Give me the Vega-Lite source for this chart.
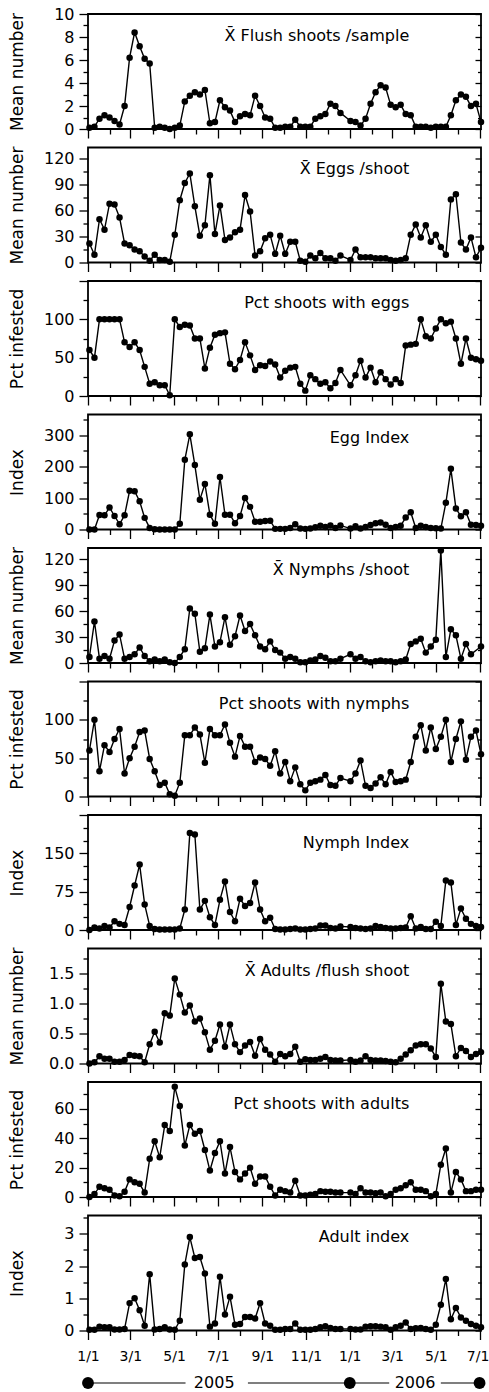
{
"$schema": "https://vega.github.io/schema/vega-lite/v6.json",
"padding": {"left": 7, "top": 5, "right": 4, "bottom": 4},
"background": "white",
"spacing": 18.5,
"bounds": "flush",
"config": {
  "font": "DejaVu Sans",
  "view": {"stroke": "black", "strokeWidth": 1.8},
  "axis": {"grid": false, "domain": false, "tickColor": "black", "tickWidth": 1.3, "labelColor": "black", "labelFontSize": 16, "titleColor": "black", "titleFontSize": 17, "titleFontWeight": "normal", "labelOverlap": false}
},
"datasets": {"d": [
{"date":"2005-01-03","flush":0.1,"eggs":22,"pegg":60,"eidx":0,"nymph":7,"pnym":60,"nidx":0,"adult":0,"padult":0,"aidx":0.02},
{"date":"2005-01-10","flush":0.2,"eggs":9,"pegg":50,"eidx":0,"nymph":48,"pnym":100,"nidx":5,"adult":0.02,"padult":2,"aidx":0.02},
{"date":"2005-01-17","flush":0.9,"eggs":50,"pegg":100,"eidx":46,"nymph":5,"pnym":33,"nidx":3,"adult":0.12,"padult":7,"aidx":0.12},
{"date":"2005-01-24","flush":1.2,"eggs":38,"pegg":100,"eidx":45,"nymph":8,"pnym":67,"nidx":8,"adult":0.08,"padult":6,"aidx":0.1},
{"date":"2005-01-31","flush":1.0,"eggs":68,"pegg":100,"eidx":70,"nymph":5,"pnym":58,"nidx":5,"adult":0.08,"padult":5,"aidx":0.1},
{"date":"2005-02-07","flush":0.7,"eggs":67,"pegg":100,"eidx":43,"nymph":26,"pnym":75,"nidx":17,"adult":0.03,"padult":1,"aidx":0.03},
{"date":"2005-02-14","flush":0.4,"eggs":52,"pegg":100,"eidx":17,"nymph":33,"pnym":88,"nidx":12,"adult":0.03,"padult":0.5,"aidx":0.03},
{"date":"2005-02-21","flush":2.0,"eggs":22,"pegg":70,"eidx":45,"nymph":5,"pnym":30,"nidx":10,"adult":0.06,"padult":3.5,"aidx":0.05},
{"date":"2005-02-28","flush":6.2,"eggs":20,"pegg":64,"eidx":123,"nymph":7,"pnym":50,"nidx":45,"adult":0.14,"padult":12,"aidx":0.85},
{"date":"2005-03-07","flush":8.4,"eggs":15,"pegg":70,"eidx":122,"nymph":10,"pnym":65,"nidx":87,"adult":0.13,"padult":10,"aidx":1.0},
{"date":"2005-03-14","flush":7.2,"eggs":13,"pegg":60,"eidx":90,"nymph":18,"pnym":84,"nidx":128,"adult":0.12,"padult":9,"aidx":0.63},
{"date":"2005-03-21","flush":6.1,"eggs":7,"pegg":38,"eidx":37,"nymph":8,"pnym":86,"nidx":50,"adult":0.02,"padult":3,"aidx":0.15},
{"date":"2005-03-28","flush":5.7,"eggs":2,"pegg":16,"eidx":5,"nymph":2,"pnym":49,"nidx":8,"adult":0.32,"padult":26,"aidx":1.75},
{"date":"2005-04-04","flush":0.1,"eggs":9,"pegg":18,"eidx":1,"nymph":4,"pnym":33,"nidx":2,"adult":0.53,"padult":38,"aidx":0.03},
{"date":"2005-04-11","flush":0.2,"eggs":3,"pegg":14,"eidx":0,"nymph":2,"pnym":15,"nidx":1,"adult":0.35,"padult":27,"aidx":0.05},
{"date":"2005-04-18","flush":0.1,"eggs":3,"pegg":14,"eidx":0,"nymph":4,"pnym":18,"nidx":1,"adult":0.84,"padult":49,"aidx":0.1},
{"date":"2005-04-25","flush":0.0,"eggs":1,"pegg":1,"eidx":0,"nymph":1,"pnym":3,"nidx":1,"adult":0.8,"padult":45,"aidx":0.03},
{"date":"2005-05-02","flush":0.1,"eggs":32,"pegg":100,"eidx":0,"nymph":0,"pnym":1,"nidx":1,"adult":1.42,"padult":75,"aidx":0.02},
{"date":"2005-05-09","flush":0.3,"eggs":72,"pegg":90,"eidx":18,"nymph":7,"pnym":18,"nidx":3,"adult":1.15,"padult":62,"aidx":0.3},
{"date":"2005-05-16","flush":2.4,"eggs":92,"pegg":93,"eidx":222,"nymph":16,"pnym":80,"nidx":40,"adult":0.85,"padult":35,"aidx":2.05},
{"date":"2005-05-23","flush":2.9,"eggs":103,"pegg":92,"eidx":303,"nymph":63,"pnym":80,"nidx":190,"adult":0.97,"padult":49,"aidx":2.9},
{"date":"2005-05-30","flush":3.2,"eggs":65,"pegg":75,"eidx":205,"nymph":57,"pnym":90,"nidx":187,"adult":0.7,"padult":43,"aidx":2.25},
{"date":"2005-06-06","flush":3.0,"eggs":31,"pegg":75,"eidx":95,"nymph":13,"pnym":81,"nidx":40,"adult":0.75,"padult":45,"aidx":2.28},
{"date":"2005-06-13","flush":3.4,"eggs":43,"pegg":36,"eidx":145,"nymph":17,"pnym":44,"nidx":57,"adult":0.52,"padult":32,"aidx":1.77},
{"date":"2005-06-20","flush":0.5,"eggs":101,"pegg":63,"eidx":47,"nymph":56,"pnym":88,"nidx":25,"adult":0.23,"padult":18,"aidx":0.12},
{"date":"2005-06-27","flush":0.6,"eggs":33,"pegg":80,"eidx":18,"nymph":19,"pnym":80,"nidx":10,"adult":0.38,"padult":30,"aidx":0.22},
{"date":"2005-07-04","flush":2.5,"eggs":66,"pegg":82,"eidx":167,"nymph":24,"pnym":80,"nidx":59,"adult":0.65,"padult":38,"aidx":1.67},
{"date":"2005-07-11","flush":1.9,"eggs":26,"pegg":83,"eidx":47,"nymph":53,"pnym":94,"nidx":95,"adult":0.28,"padult":16,"aidx":0.5},
{"date":"2005-07-18","flush":1.6,"eggs":29,"pegg":42,"eidx":47,"nymph":21,"pnym":70,"nidx":35,"adult":0.65,"padult":34,"aidx":1.05},
{"date":"2005-07-25","flush":0.6,"eggs":35,"pegg":35,"eidx":20,"nymph":31,"pnym":52,"nidx":17,"adult":0.32,"padult":17,"aidx":0.18},
{"date":"2005-08-01","flush":1.1,"eggs":38,"pegg":47,"eidx":43,"nymph":55,"pnym":79,"nidx":61,"adult":0.19,"padult":12,"aidx":0.2},
{"date":"2005-08-08","flush":1.3,"eggs":78,"pegg":70,"eidx":100,"nymph":37,"pnym":65,"nidx":47,"adult":0.3,"padult":16,"aidx":0.42},
{"date":"2005-08-15","flush":1.2,"eggs":59,"pegg":53,"eidx":72,"nymph":45,"pnym":65,"nidx":53,"adult":0.36,"padult":20,"aidx":0.42},
{"date":"2005-08-22","flush":2.9,"eggs":8,"pegg":34,"eidx":25,"nymph":32,"pnym":45,"nidx":93,"adult":0.13,"padult":9,"aidx":0.37},
{"date":"2005-08-29","flush":2.0,"eggs":13,"pegg":40,"eidx":25,"nymph":19,"pnym":51,"nidx":40,"adult":0.41,"padult":14,"aidx":0.85},
{"date":"2005-09-05","flush":1.0,"eggs":28,"pegg":39,"eidx":27,"nymph":16,"pnym":49,"nidx":17,"adult":0.23,"padult":14,"aidx":0.22},
{"date":"2005-09-12","flush":0.9,"eggs":32,"pegg":45,"eidx":28,"nymph":25,"pnym":40,"nidx":24,"adult":0.15,"padult":7,"aidx":0.15},
{"date":"2005-09-19","flush":0.1,"eggs":10,"pegg":41,"eidx":2,"nymph":15,"pnym":59,"nidx":2,"adult":0.03,"padult":1,"aidx":0.02},
{"date":"2005-09-26","flush":0.1,"eggs":31,"pegg":24,"eidx":2,"nymph":12,"pnym":30,"nidx":1,"adult":0.16,"padult":5,"aidx":0.02},
{"date":"2005-10-03","flush":0.2,"eggs":10,"pegg":33,"eidx":2,"nymph":5,"pnym":45,"nidx":1,"adult":0.12,"padult":4,"aidx":0.05},
{"date":"2005-10-10","flush":0.2,"eggs":24,"pegg":37,"eidx":5,"nymph":7,"pnym":20,"nidx":2,"adult":0.16,"padult":3,"aidx":0.05},
{"date":"2005-10-17","flush":0.8,"eggs":24,"pegg":38,"eidx":17,"nymph":5,"pnym":38,"nidx":3,"adult":0.28,"padult":11,"aidx":0.22},
{"date":"2005-10-24","flush":0.2,"eggs":2,"pegg":16,"eidx":3,"nymph":1,"pnym":16,"nidx":1,"adult":0.03,"padult":1,"aidx":0.02},
{"date":"2005-10-31","flush":0.2,"eggs":1,"pegg":7,"eidx":2,"nymph":1,"pnym":8,"nidx":1,"adult":0.07,"padult":1,"aidx":0.02},
{"date":"2005-11-07","flush":0.2,"eggs":8,"pegg":27,"eidx":3,"nymph":3,"pnym":18,"nidx":2,"adult":0.06,"padult":1.5,"aidx":0.02},
{"date":"2005-11-14","flush":0.9,"eggs":5,"pegg":22,"eidx":7,"nymph":4,"pnym":20,"nidx":3,"adult":0.06,"padult":2,"aidx":0.05},
{"date":"2005-11-21","flush":1.1,"eggs":11,"pegg":16,"eidx":12,"nymph":8,"pnym":22,"nidx":9,"adult":0.08,"padult":4,"aidx":0.1},
{"date":"2005-11-28","flush":1.3,"eggs":5,"pegg":18,"eidx":8,"nymph":6,"pnym":28,"nidx":9,"adult":0.11,"padult":3.5,"aidx":0.13},
{"date":"2005-12-05","flush":2.2,"eggs":5,"pegg":10,"eidx":13,"nymph":2,"pnym":15,"nidx":4,"adult":0.06,"padult":3.5,"aidx":0.08},
{"date":"2005-12-12","flush":2.0,"eggs":2,"pegg":17,"eidx":5,"nymph":2,"pnym":14,"nidx":3,"adult":0.05,"padult":3,"aidx":0.05},
{"date":"2005-12-19","flush":1.4,"eggs":8,"pegg":34,"eidx":13,"nymph":5,"pnym":24,"nidx":7,"adult":0.05,"padult":3,"aidx":0.05},
{"date":"2006-01-02","flush":0.7,"eggs":3,"pegg":14,"eidx":3,"nymph":10,"pnym":20,"nidx":6,"adult":0.06,"padult":3,"aidx":0.05},
{"date":"2006-01-09","flush":0.6,"eggs":15,"pegg":27,"eidx":10,"nymph":5,"pnym":30,"nidx":4,"adult":0.03,"padult":2,"aidx":0.03},
{"date":"2006-01-16","flush":0.3,"eggs":6,"pegg":46,"eidx":3,"nymph":7,"pnym":47,"nidx":3,"adult":0.05,"padult":6,"aidx":0.03},
{"date":"2006-01-23","flush":0.9,"eggs":6,"pegg":24,"eidx":8,"nymph":2,"pnym":14,"nidx":2,"adult":0.12,"padult":3,"aidx":0.12},
{"date":"2006-01-30","flush":2.2,"eggs":6,"pegg":37,"eidx":14,"nymph":1,"pnym":11,"nidx":3,"adult":0.06,"padult":3,"aidx":0.13},
{"date":"2006-02-06","flush":3.2,"eggs":5,"pegg":18,"eidx":20,"nymph":2,"pnym":17,"nidx":8,"adult":0.05,"padult":2.5,"aidx":0.13},
{"date":"2006-02-13","flush":3.8,"eggs":5,"pegg":31,"eidx":22,"nymph":3,"pnym":25,"nidx":6,"adult":0.05,"padult":3,"aidx":0.12},
{"date":"2006-02-20","flush":3.6,"eggs":5,"pegg":22,"eidx":15,"nymph":2,"pnym":16,"nidx":4,"adult":0.04,"padult":0.5,"aidx":0.1},
{"date":"2006-02-27","flush":2.1,"eggs":3,"pegg":15,"eidx":5,"nymph":2,"pnym":32,"nidx":3,"adult":0.03,"padult":2,"aidx":0.02},
{"date":"2006-03-06","flush":1.9,"eggs":2,"pegg":22,"eidx":8,"nymph":1,"pnym":19,"nidx":3,"adult":0.02,"padult":5,"aidx":0.1},
{"date":"2006-03-13","flush":2.1,"eggs":3,"pegg":17,"eidx":12,"nymph":2,"pnym":20,"nidx":4,"adult":0.08,"padult":6,"aidx":0.15},
{"date":"2006-03-20","flush":1.3,"eggs":5,"pegg":66,"eidx":38,"nymph":4,"pnym":22,"nidx":5,"adult":0.15,"padult":8,"aidx":0.25},
{"date":"2006-03-27","flush":1.2,"eggs":32,"pegg":67,"eidx":55,"nymph":22,"pnym":45,"nidx":27,"adult":0.22,"padult":10,"aidx":0.05},
{"date":"2006-04-03","flush":0.2,"eggs":44,"pegg":68,"eidx":5,"nymph":25,"pnym":78,"nidx":3,"adult":0.3,"padult":5,"aidx":0.07},
{"date":"2006-04-10","flush":0.2,"eggs":29,"pegg":100,"eidx":12,"nymph":28,"pnym":93,"nidx":6,"adult":0.32,"padult":5,"aidx":0.08},
{"date":"2006-04-17","flush":0.2,"eggs":43,"pegg":78,"eidx":8,"nymph":12,"pnym":60,"nidx":2,"adult":0.32,"padult":4,"aidx":0.05},
{"date":"2006-04-24","flush":0.1,"eggs":24,"pegg":75,"eidx":5,"nymph":19,"pnym":90,"nidx":2,"adult":0.25,"padult":0.5,"aidx":0.02},
{"date":"2006-05-01","flush":0.2,"eggs":32,"pegg":88,"eidx":4,"nymph":27,"pnym":62,"nidx":16,"adult":0.11,"padult":2,"aidx":0.18},
{"date":"2006-05-08","flush":0.2,"eggs":18,"pegg":100,"eidx":3,"nymph":130,"pnym":78,"nidx":8,"adult":1.33,"padult":22,"aidx":0.8},
{"date":"2006-05-15","flush":0.2,"eggs":9,"pegg":95,"eidx":85,"nymph":7,"pnym":100,"nidx":97,"adult":0.7,"padult":33,"aidx":1.6},
{"date":"2006-05-22","flush":1.2,"eggs":73,"pegg":97,"eidx":193,"nymph":39,"pnym":45,"nidx":93,"adult":0.66,"padult":3,"aidx":0.35},
{"date":"2006-05-29","flush":2.5,"eggs":79,"pegg":75,"eidx":67,"nymph":32,"pnym":75,"nidx":10,"adult":0.12,"padult":17,"aidx":0.7},
{"date":"2006-06-05","flush":3.0,"eggs":23,"pegg":42,"eidx":42,"nymph":5,"pnym":98,"nidx":42,"adult":0.26,"padult":12,"aidx":0.4},
{"date":"2006-06-12","flush":2.8,"eggs":15,"pegg":75,"eidx":55,"nymph":22,"pnym":48,"nidx":22,"adult":0.21,"padult":4,"aidx":0.3},
{"date":"2006-06-19","flush":2.0,"eggs":29,"pegg":50,"eidx":15,"nymph":10,"pnym":78,"nidx":12,"adult":0.11,"padult":4,"aidx":0.2},
{"date":"2006-06-26","flush":2.2,"eggs":6,"pegg":48,"eidx":14,"nymph":null,"pnym":86,"nidx":8,"adult":0.16,"padult":5,"aidx":0.15},
{"date":"2006-07-03","flush":0.6,"eggs":17,"pegg":46,"eidx":12,"nymph":19,"pnym":55,"nidx":6,"adult":0.19,"padult":5,"aidx":0.1}
]},
"vconcat": [
{"width": 393, "height": 115, "data": {"name": "d"},
 "encoding": {"x": {"field": "date", "type": "temporal", "scale": {"type": "utc", "domain": [1104537600000, 1151884800000]}, "axis": {"title": null, "labels": false, "values": [1104537600000,1107216000000,1109635200000,1112313600000,1114905600000,1117584000000,1120176000000,1122854400000,1125532800000,1128124800000,1130803200000,1133395200000,1136073600000,1138752000000,1141171200000,1143849600000,1146441600000,1149120000000,1151712000000], "tickSize": {"condition": {"test": "utcmonth(datum.value) % 2 === 0", "value": 9}, "value": 5}}}},
 "layer": [
  {"transform": [{"filter": "isValid(datum.flush)"}], "mark": {"type": "line", "color": "black", "strokeWidth": 1.4},
   "encoding": {"y": {"field": "flush", "type": "quantitative", "scale": {"domain": [0, 10], "nice": false}, "axis": {"orient": "left", "title": "Mean number", "values": [0,1,2,3,4,5,6,7,8,9,10], "labelExpr": "datum.value % 2 === 0 ? datum.label : ''", "tickSize": {"condition": {"test": "datum.value % 2 === 0", "value": 9}, "value": 5}, "labelPadding": 5, "titlePadding": 16, "minExtent": 46, "maxExtent": 46}}}},
  {"transform": [{"filter": "isValid(datum.flush)"}], "mark": {"type": "circle", "color": "black", "size": 42, "opacity": 1},
   "encoding": {"y": {"field": "flush", "type": "quantitative", "scale": {"domain": [0, 10], "nice": false}, "axis": {"orient": "right", "title": null, "labels": false, "values": [0,1,2,3,4,5,6,7,8,9,10], "tickSize": {"condition": {"test": "datum.value % 2 === 0", "value": -6}, "value": -3.5}, "minExtent": 0, "maxExtent": 0}}}},
  {"data": {"values": [{"d": "2006-03-25", "lab": "X\u0304 Flush shoots /sample"}]}, "mark": {"type": "text", "align": "right", "baseline": "middle", "fontSize": 16, "color": "black"},
   "encoding": {"x": {"field": "d", "type": "temporal"}, "y": {"datum": 8.1, "type": "quantitative", "axis": null}, "text": {"field": "lab", "type": "nominal"}}}
 ],
 "resolve": {"axis": {"y": "independent"}}
},
{"width": 393, "height": 115, "data": {"name": "d"},
 "encoding": {"x": {"field": "date", "type": "temporal", "scale": {"type": "utc", "domain": [1104537600000, 1151884800000]}, "axis": {"title": null, "labels": false, "values": [1104537600000,1107216000000,1109635200000,1112313600000,1114905600000,1117584000000,1120176000000,1122854400000,1125532800000,1128124800000,1130803200000,1133395200000,1136073600000,1138752000000,1141171200000,1143849600000,1146441600000,1149120000000,1151712000000], "tickSize": {"condition": {"test": "utcmonth(datum.value) % 2 === 0", "value": 9}, "value": 5}}}},
 "layer": [
  {"transform": [{"filter": "isValid(datum.eggs)"}], "mark": {"type": "line", "color": "black", "strokeWidth": 1.4},
   "encoding": {"y": {"field": "eggs", "type": "quantitative", "scale": {"domain": [0, 133], "nice": false}, "axis": {"orient": "left", "title": "Mean number", "values": [0,15,30,45,60,75,90,105,120], "labelExpr": "datum.value % 30 === 0 ? datum.label : ''", "tickSize": {"condition": {"test": "datum.value % 30 === 0", "value": 9}, "value": 5}, "labelPadding": 5, "titlePadding": 16, "minExtent": 46, "maxExtent": 46}}}},
  {"transform": [{"filter": "isValid(datum.eggs)"}], "mark": {"type": "circle", "color": "black", "size": 42, "opacity": 1},
   "encoding": {"y": {"field": "eggs", "type": "quantitative", "scale": {"domain": [0, 133], "nice": false}, "axis": {"orient": "right", "title": null, "labels": false, "values": [0,15,30,45,60,75,90,105,120], "tickSize": {"condition": {"test": "datum.value % 30 === 0", "value": -6}, "value": -3.5}, "minExtent": 0, "maxExtent": 0}}}},
  {"data": {"values": [{"d": "2006-03-25", "lab": "X\u0304 Eggs /shoot"}]}, "mark": {"type": "text", "align": "right", "baseline": "middle", "fontSize": 16, "color": "black"},
   "encoding": {"x": {"field": "d", "type": "temporal"}, "y": {"datum": 107.6, "type": "quantitative", "axis": null}, "text": {"field": "lab", "type": "nominal"}}}
 ],
 "resolve": {"axis": {"y": "independent"}}
},
{"width": 393, "height": 115, "data": {"name": "d"},
 "encoding": {"x": {"field": "date", "type": "temporal", "scale": {"type": "utc", "domain": [1104537600000, 1151884800000]}, "axis": {"title": null, "labels": false, "values": [1104537600000,1107216000000,1109635200000,1112313600000,1114905600000,1117584000000,1120176000000,1122854400000,1125532800000,1128124800000,1130803200000,1133395200000,1136073600000,1138752000000,1141171200000,1143849600000,1146441600000,1149120000000,1151712000000], "tickSize": {"condition": {"test": "utcmonth(datum.value) % 2 === 0", "value": 9}, "value": 5}}}},
 "layer": [
  {"transform": [{"filter": "isValid(datum.pegg)"}], "mark": {"type": "line", "color": "black", "strokeWidth": 1.4},
   "encoding": {"y": {"field": "pegg", "type": "quantitative", "scale": {"domain": [0, 150], "nice": false}, "axis": {"orient": "left", "title": "Pct infested", "values": [0,25,50,75,100,125,150], "labelExpr": "datum.value % 50 === 0 && datum.value < 150 ? datum.label : ''", "tickSize": {"condition": {"test": "datum.value % 50 === 0", "value": 9}, "value": 5}, "labelPadding": 5, "titlePadding": 16, "minExtent": 46, "maxExtent": 46}}}},
  {"transform": [{"filter": "isValid(datum.pegg)"}], "mark": {"type": "circle", "color": "black", "size": 42, "opacity": 1},
   "encoding": {"y": {"field": "pegg", "type": "quantitative", "scale": {"domain": [0, 150], "nice": false}, "axis": {"orient": "right", "title": null, "labels": false, "values": [0,25,50,75,100,125,150], "tickSize": {"condition": {"test": "datum.value % 50 === 0", "value": -6}, "value": -3.5}, "minExtent": 0, "maxExtent": 0}}}},
  {"data": {"values": [{"d": "2006-03-25", "lab": "Pct shoots with eggs"}]}, "mark": {"type": "text", "align": "right", "baseline": "middle", "fontSize": 16, "color": "black"},
   "encoding": {"x": {"field": "d", "type": "temporal"}, "y": {"datum": 121, "type": "quantitative", "axis": null}, "text": {"field": "lab", "type": "nominal"}}}
 ],
 "resolve": {"axis": {"y": "independent"}}
},
{"width": 393, "height": 115, "data": {"name": "d"},
 "encoding": {"x": {"field": "date", "type": "temporal", "scale": {"type": "utc", "domain": [1104537600000, 1151884800000]}, "axis": {"title": null, "labels": false, "values": [1104537600000,1107216000000,1109635200000,1112313600000,1114905600000,1117584000000,1120176000000,1122854400000,1125532800000,1128124800000,1130803200000,1133395200000,1136073600000,1138752000000,1141171200000,1143849600000,1146441600000,1149120000000,1151712000000], "tickSize": {"condition": {"test": "utcmonth(datum.value) % 2 === 0", "value": 9}, "value": 5}}}},
 "layer": [
  {"transform": [{"filter": "isValid(datum.eidx)"}], "mark": {"type": "line", "color": "black", "strokeWidth": 1.4},
   "encoding": {"y": {"field": "eidx", "type": "quantitative", "scale": {"domain": [0, 366], "nice": false}, "axis": {"orient": "left", "title": "Index", "values": [0,50,100,150,200,250,300,350], "labelExpr": "datum.value % 100 === 0 ? datum.label : ''", "tickSize": {"condition": {"test": "datum.value % 100 === 0", "value": 9}, "value": 5}, "labelPadding": 5, "titlePadding": 16, "minExtent": 46, "maxExtent": 46}}}},
  {"transform": [{"filter": "isValid(datum.eidx)"}], "mark": {"type": "circle", "color": "black", "size": 42, "opacity": 1},
   "encoding": {"y": {"field": "eidx", "type": "quantitative", "scale": {"domain": [0, 366], "nice": false}, "axis": {"orient": "right", "title": null, "labels": false, "values": [0,50,100,150,200,250,300,350], "tickSize": {"condition": {"test": "datum.value % 100 === 0", "value": -6}, "value": -3.5}, "minExtent": 0, "maxExtent": 0}}}},
  {"data": {"values": [{"d": "2006-03-25", "lab": "Egg Index"}]}, "mark": {"type": "text", "align": "right", "baseline": "middle", "fontSize": 16, "color": "black"},
   "encoding": {"x": {"field": "d", "type": "temporal"}, "y": {"datum": 290, "type": "quantitative", "axis": null}, "text": {"field": "lab", "type": "nominal"}}}
 ],
 "resolve": {"axis": {"y": "independent"}}
},
{"width": 393, "height": 115, "data": {"name": "d"},
 "encoding": {"x": {"field": "date", "type": "temporal", "scale": {"type": "utc", "domain": [1104537600000, 1151884800000]}, "axis": {"title": null, "labels": false, "values": [1104537600000,1107216000000,1109635200000,1112313600000,1114905600000,1117584000000,1120176000000,1122854400000,1125532800000,1128124800000,1130803200000,1133395200000,1136073600000,1138752000000,1141171200000,1143849600000,1146441600000,1149120000000,1151712000000], "tickSize": {"condition": {"test": "utcmonth(datum.value) % 2 === 0", "value": 9}, "value": 5}}}},
 "layer": [
  {"transform": [{"filter": "isValid(datum.nymph)"}], "mark": {"type": "line", "color": "black", "strokeWidth": 1.4},
   "encoding": {"y": {"field": "nymph", "type": "quantitative", "scale": {"domain": [0, 133], "nice": false}, "axis": {"orient": "left", "title": "Mean number", "values": [0,15,30,45,60,75,90,105,120], "labelExpr": "datum.value % 30 === 0 ? datum.label : ''", "tickSize": {"condition": {"test": "datum.value % 30 === 0", "value": 9}, "value": 5}, "labelPadding": 5, "titlePadding": 16, "minExtent": 46, "maxExtent": 46}}}},
  {"transform": [{"filter": "isValid(datum.nymph)"}], "mark": {"type": "circle", "color": "black", "size": 42, "opacity": 1},
   "encoding": {"y": {"field": "nymph", "type": "quantitative", "scale": {"domain": [0, 133], "nice": false}, "axis": {"orient": "right", "title": null, "labels": false, "values": [0,15,30,45,60,75,90,105,120], "tickSize": {"condition": {"test": "datum.value % 30 === 0", "value": -6}, "value": -3.5}, "minExtent": 0, "maxExtent": 0}}}},
  {"data": {"values": [{"d": "2006-03-25", "lab": "X\u0304 Nymphs /shoot"}]}, "mark": {"type": "text", "align": "right", "baseline": "middle", "fontSize": 16, "color": "black"},
   "encoding": {"x": {"field": "d", "type": "temporal"}, "y": {"datum": 107.6, "type": "quantitative", "axis": null}, "text": {"field": "lab", "type": "nominal"}}}
 ],
 "resolve": {"axis": {"y": "independent"}}
},
{"width": 393, "height": 115, "data": {"name": "d"},
 "encoding": {"x": {"field": "date", "type": "temporal", "scale": {"type": "utc", "domain": [1104537600000, 1151884800000]}, "axis": {"title": null, "labels": false, "values": [1104537600000,1107216000000,1109635200000,1112313600000,1114905600000,1117584000000,1120176000000,1122854400000,1125532800000,1128124800000,1130803200000,1133395200000,1136073600000,1138752000000,1141171200000,1143849600000,1146441600000,1149120000000,1151712000000], "tickSize": {"condition": {"test": "utcmonth(datum.value) % 2 === 0", "value": 9}, "value": 5}}}},
 "layer": [
  {"transform": [{"filter": "isValid(datum.pnym)"}], "mark": {"type": "line", "color": "black", "strokeWidth": 1.4},
   "encoding": {"y": {"field": "pnym", "type": "quantitative", "scale": {"domain": [0, 150], "nice": false}, "axis": {"orient": "left", "title": "Pct infested", "values": [0,25,50,75,100,125,150], "labelExpr": "datum.value % 50 === 0 && datum.value < 150 ? datum.label : ''", "tickSize": {"condition": {"test": "datum.value % 50 === 0", "value": 9}, "value": 5}, "labelPadding": 5, "titlePadding": 16, "minExtent": 46, "maxExtent": 46}}}},
  {"transform": [{"filter": "isValid(datum.pnym)"}], "mark": {"type": "circle", "color": "black", "size": 42, "opacity": 1},
   "encoding": {"y": {"field": "pnym", "type": "quantitative", "scale": {"domain": [0, 150], "nice": false}, "axis": {"orient": "right", "title": null, "labels": false, "values": [0,25,50,75,100,125,150], "tickSize": {"condition": {"test": "datum.value % 50 === 0", "value": -6}, "value": -3.5}, "minExtent": 0, "maxExtent": 0}}}},
  {"data": {"values": [{"d": "2006-03-25", "lab": "Pct shoots with nymphs"}]}, "mark": {"type": "text", "align": "right", "baseline": "middle", "fontSize": 16, "color": "black"},
   "encoding": {"x": {"field": "d", "type": "temporal"}, "y": {"datum": 121, "type": "quantitative", "axis": null}, "text": {"field": "lab", "type": "nominal"}}}
 ],
 "resolve": {"axis": {"y": "independent"}}
},
{"width": 393, "height": 115, "data": {"name": "d"},
 "encoding": {"x": {"field": "date", "type": "temporal", "scale": {"type": "utc", "domain": [1104537600000, 1151884800000]}, "axis": {"title": null, "labels": false, "values": [1104537600000,1107216000000,1109635200000,1112313600000,1114905600000,1117584000000,1120176000000,1122854400000,1125532800000,1128124800000,1130803200000,1133395200000,1136073600000,1138752000000,1141171200000,1143849600000,1146441600000,1149120000000,1151712000000], "tickSize": {"condition": {"test": "utcmonth(datum.value) % 2 === 0", "value": 9}, "value": 5}}}},
 "layer": [
  {"transform": [{"filter": "isValid(datum.nidx)"}], "mark": {"type": "line", "color": "black", "strokeWidth": 1.4},
   "encoding": {"y": {"field": "nidx", "type": "quantitative", "scale": {"domain": [0, 225], "nice": false}, "axis": {"orient": "left", "title": "Index", "values": [0,25,50,75,100,125,150,175,200,225], "labelExpr": "datum.value % 75 === 0 && datum.value < 225 ? datum.label : ''", "tickSize": {"condition": {"test": "datum.value % 75 === 0", "value": 9}, "value": 5}, "labelPadding": 5, "titlePadding": 16, "minExtent": 46, "maxExtent": 46}}}},
  {"transform": [{"filter": "isValid(datum.nidx)"}], "mark": {"type": "circle", "color": "black", "size": 42, "opacity": 1},
   "encoding": {"y": {"field": "nidx", "type": "quantitative", "scale": {"domain": [0, 225], "nice": false}, "axis": {"orient": "right", "title": null, "labels": false, "values": [0,25,50,75,100,125,150,175,200,225], "tickSize": {"condition": {"test": "datum.value % 75 === 0", "value": -6}, "value": -3.5}, "minExtent": 0, "maxExtent": 0}}}},
  {"data": {"values": [{"d": "2006-03-25", "lab": "Nymph Index"}]}, "mark": {"type": "text", "align": "right", "baseline": "middle", "fontSize": 16, "color": "black"},
   "encoding": {"x": {"field": "d", "type": "temporal"}, "y": {"datum": 170, "type": "quantitative", "axis": null}, "text": {"field": "lab", "type": "nominal"}}}
 ],
 "resolve": {"axis": {"y": "independent"}}
},
{"width": 393, "height": 115, "data": {"name": "d"},
 "encoding": {"x": {"field": "date", "type": "temporal", "scale": {"type": "utc", "domain": [1104537600000, 1151884800000]}, "axis": {"title": null, "labels": false, "values": [1104537600000,1107216000000,1109635200000,1112313600000,1114905600000,1117584000000,1120176000000,1122854400000,1125532800000,1128124800000,1130803200000,1133395200000,1136073600000,1138752000000,1141171200000,1143849600000,1146441600000,1149120000000,1151712000000], "tickSize": {"condition": {"test": "utcmonth(datum.value) % 2 === 0", "value": 9}, "value": 5}}}},
 "layer": [
  {"transform": [{"filter": "isValid(datum.adult)"}], "mark": {"type": "line", "color": "black", "strokeWidth": 1.4},
   "encoding": {"y": {"field": "adult", "type": "quantitative", "scale": {"domain": [0, 1.92], "nice": false}, "axis": {"orient": "left", "title": "Mean number", "values": [0,0.25,0.5,0.75,1,1.25,1.5,1.75], "format": ".1f", "labelExpr": "abs(datum.value*2 - round(datum.value*2)) < 0.001 ? datum.label : ''", "tickSize": {"condition": {"test": "abs(datum.value*2 - round(datum.value*2)) < 0.001", "value": 9}, "value": 5}, "labelPadding": 5, "titlePadding": 16, "minExtent": 46, "maxExtent": 46}}}},
  {"transform": [{"filter": "isValid(datum.adult)"}], "mark": {"type": "circle", "color": "black", "size": 42, "opacity": 1},
   "encoding": {"y": {"field": "adult", "type": "quantitative", "scale": {"domain": [0, 1.92], "nice": false}, "axis": {"orient": "right", "title": null, "labels": false, "values": [0,0.25,0.5,0.75,1,1.25,1.5,1.75], "tickSize": {"condition": {"test": "abs(datum.value*2 - round(datum.value*2)) < 0.001", "value": -6}, "value": -3.5}, "minExtent": 0, "maxExtent": 0}}}},
  {"data": {"values": [{"d": "2006-03-25", "lab": "X\u0304 Adults /flush shoot"}]}, "mark": {"type": "text", "align": "right", "baseline": "middle", "fontSize": 16, "color": "black"},
   "encoding": {"x": {"field": "d", "type": "temporal"}, "y": {"datum": 1.54, "type": "quantitative", "axis": null}, "text": {"field": "lab", "type": "nominal"}}}
 ],
 "resolve": {"axis": {"y": "independent"}}
},
{"width": 393, "height": 115, "data": {"name": "d"},
 "encoding": {"x": {"field": "date", "type": "temporal", "scale": {"type": "utc", "domain": [1104537600000, 1151884800000]}, "axis": {"title": null, "labels": false, "values": [1104537600000,1107216000000,1109635200000,1112313600000,1114905600000,1117584000000,1120176000000,1122854400000,1125532800000,1128124800000,1130803200000,1133395200000,1136073600000,1138752000000,1141171200000,1143849600000,1146441600000,1149120000000,1151712000000], "tickSize": {"condition": {"test": "utcmonth(datum.value) % 2 === 0", "value": 9}, "value": 5}}}},
 "layer": [
  {"transform": [{"filter": "isValid(datum.padult)"}], "mark": {"type": "line", "color": "black", "strokeWidth": 1.4},
   "encoding": {"y": {"field": "padult", "type": "quantitative", "scale": {"domain": [0, 78.3], "nice": false}, "axis": {"orient": "left", "title": "Pct infested", "values": [0,10,20,30,40,50,60,70], "labelExpr": "datum.value % 20 === 0 ? datum.label : ''", "tickSize": {"condition": {"test": "datum.value % 20 === 0", "value": 9}, "value": 5}, "labelPadding": 5, "titlePadding": 16, "minExtent": 46, "maxExtent": 46}}}},
  {"transform": [{"filter": "isValid(datum.padult)"}], "mark": {"type": "circle", "color": "black", "size": 42, "opacity": 1},
   "encoding": {"y": {"field": "padult", "type": "quantitative", "scale": {"domain": [0, 78.3], "nice": false}, "axis": {"orient": "right", "title": null, "labels": false, "values": [0,10,20,30,40,50,60,70], "tickSize": {"condition": {"test": "datum.value % 20 === 0", "value": -6}, "value": -3.5}, "minExtent": 0, "maxExtent": 0}}}},
  {"data": {"values": [{"d": "2006-03-25", "lab": "Pct shoots with adults"}]}, "mark": {"type": "text", "align": "right", "baseline": "middle", "fontSize": 16, "color": "black"},
   "encoding": {"x": {"field": "d", "type": "temporal"}, "y": {"datum": 63.3, "type": "quantitative", "axis": null}, "text": {"field": "lab", "type": "nominal"}}}
 ],
 "resolve": {"axis": {"y": "independent"}}
},
{"width": 393, "height": 115, "data": {"name": "d"},
 "encoding": {"x": {"field": "date", "type": "temporal", "scale": {"type": "utc", "domain": [1104537600000, 1151884800000]}, "axis": {"title": null, "labels": true, "labelFontSize": 14, "labelPadding": 10, "labelFlush": false, "labelOverlap": false, "labelOffset": {"condition": {"test": "datum.value >= 1151712000000", "value": -2}, "value": 0}, "labelExpr": "utcmonth(datum.value) % 2 === 0 ? utcFormat(datum.value, '%-m/%-d') : ''", "values": [1104537600000,1107216000000,1109635200000,1112313600000,1114905600000,1117584000000,1120176000000,1122854400000,1125532800000,1128124800000,1130803200000,1133395200000,1136073600000,1138752000000,1141171200000,1143849600000,1146441600000,1149120000000,1151712000000], "tickSize": {"condition": {"test": "utcmonth(datum.value) % 2 === 0", "value": 9}, "value": 5}}}},
 "layer": [
  {"transform": [{"filter": "isValid(datum.aidx)"}], "mark": {"type": "line", "color": "black", "strokeWidth": 1.4},
   "encoding": {"y": {"field": "aidx", "type": "quantitative", "scale": {"domain": [0, 3.57], "nice": false}, "axis": {"orient": "left", "title": "Index", "values": [0,0.5,1,1.5,2,2.5,3,3.5], "format": ".0f", "labelExpr": "abs(datum.value - round(datum.value)) < 0.001 ? datum.label : ''", "tickSize": {"condition": {"test": "abs(datum.value - round(datum.value)) < 0.001", "value": 9}, "value": 5}, "labelPadding": 5, "titlePadding": 16, "minExtent": 46, "maxExtent": 46}}}},
  {"transform": [{"filter": "isValid(datum.aidx)"}], "mark": {"type": "circle", "color": "black", "size": 42, "opacity": 1},
   "encoding": {"y": {"field": "aidx", "type": "quantitative", "scale": {"domain": [0, 3.57], "nice": false}, "axis": {"orient": "right", "title": null, "labels": false, "values": [0,0.5,1,1.5,2,2.5,3,3.5], "tickSize": {"condition": {"test": "abs(datum.value - round(datum.value)) < 0.001", "value": -6}, "value": -3.5}, "minExtent": 0, "maxExtent": 0}}}},
  {"data": {"values": [{"d": "2006-03-25", "lab": "Adult index"}]}, "mark": {"type": "text", "align": "right", "baseline": "middle", "fontSize": 16, "color": "black"},
   "encoding": {"x": {"field": "d", "type": "temporal"}, "y": {"datum": 2.89, "type": "quantitative", "axis": null}, "text": {"field": "lab", "type": "nominal"}}}
 ],
 "resolve": {"axis": {"y": "independent"}}
},
{"width": 393, "height": 40, "view": {"stroke": null},
 "layer": [
  {"data": {"values": [{"s": "2005-01-01", "e": "2005-05-17"}, {"s": "2005-08-12", "e": "2006-01-01"}, {"s": "2006-01-01", "e": "2006-02-25"}, {"s": "2006-05-08", "e": "2006-07-01"}]},
   "mark": {"type": "rule", "color": "black", "strokeWidth": 1.2},
   "encoding": {"x": {"field": "s", "type": "temporal", "scale": {"type": "utc", "domain": [1104537600000, 1151884800000]}, "axis": null}, "x2": {"field": "e"}, "y": {"datum": 0.15, "type": "quantitative", "scale": {"domain": [0, 1]}, "axis": null}}},
  {"data": {"values": [{"d": "2005-01-01"}, {"d": "2006-01-01"}, {"d": "2006-07-01"}]},
   "mark": {"type": "circle", "color": "black", "size": 140, "opacity": 1},
   "encoding": {"x": {"field": "d", "type": "temporal", "axis": null}, "y": {"datum": 0.15, "type": "quantitative", "axis": null}}},
  {"data": {"values": [{"d": "2005-06-26", "t": "2005"}, {"d": "2006-04-02", "t": "2006"}]},
   "mark": {"type": "text", "fontSize": 16, "baseline": "middle", "align": "center", "color": "black"},
   "encoding": {"x": {"field": "d", "type": "temporal", "axis": null}, "y": {"datum": 0.15, "type": "quantitative", "axis": null}, "text": {"field": "t", "type": "nominal"}}}
 ]
}
]
}
